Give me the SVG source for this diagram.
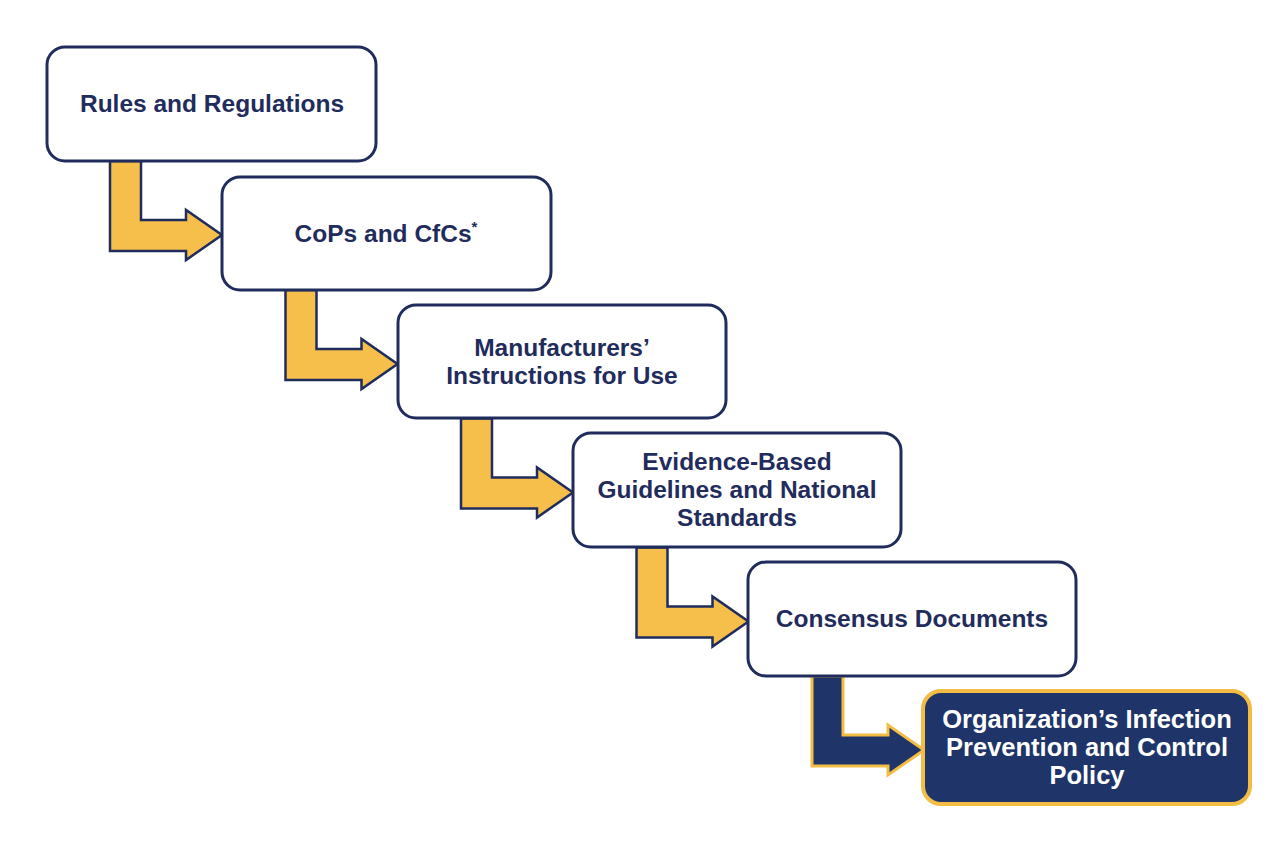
<svg xmlns="http://www.w3.org/2000/svg" width="1280" height="852" viewBox="0 0 1280 852">
<style>
.box{fill:#fff;stroke:#1f2c5c;stroke-width:3}
.fin{fill:#1f3468;stroke:#f3bd45;stroke-width:4}
.arr{fill:#f6be4b;stroke:#1f2c5c;stroke-width:2.5;stroke-linejoin:miter}
.arrd{fill:#1f3468;stroke:#f3bd45;stroke-width:3;stroke-linejoin:miter}
text{font-family:"Liberation Sans",Arial,sans-serif;font-weight:bold;font-size:24.5px;fill:#1f2c5c;text-anchor:middle}
.w{fill:#fff;font-size:25.5px}
</style>
<rect width="1280" height="852" fill="#fff"/>
<defs><path id="a" d="M0,0 L31,0 L31,59 L76,59 L76,49 L112,74 L76,99 L76,90 L0,90 Z"/></defs>
<g id="connectors">
<use href="#a" class="arr" x="110" y="161"/>
<use href="#a" class="arr" x="285.5" y="290"/>
<use href="#a" class="arr" x="461" y="418.5"/>
<use href="#a" class="arr" x="636.5" y="547.5"/>
<use href="#a" class="arrd" x="812" y="676"/>
</g>
<g id="n1"><rect class="box" x="47" y="47" width="329" height="114" rx="18"/><text x="212" y="112">Rules and Regulations</text></g>
<g id="n2"><rect class="box" x="222" y="177" width="329" height="113" rx="18"/><text x="386" y="242">CoPs and CfCs<tspan font-size="15" dy="-10">*</tspan></text></g>
<g id="n3"><rect class="box" x="398" y="305" width="328" height="113" rx="18"/><text x="562" y="356">Manufacturers’</text><text x="562" y="384">Instructions for Use</text></g>
<g id="n4"><rect class="box" x="573" y="433" width="328" height="114" rx="18"/><text x="737" y="470">Evidence-Based</text><text x="737" y="498">Guidelines and National</text><text x="737" y="526">Standards</text></g>
<g id="n5"><rect class="box" x="748" y="562" width="328" height="114" rx="18"/><text x="912" y="627">Consensus Documents</text></g>
<g id="n6"><rect class="fin" x="923" y="691" width="327" height="113" rx="18"/><text class="w" x="1087" y="728">Organization’s Infection</text><text class="w" x="1087" y="756">Prevention and Control</text><text class="w" x="1087" y="784">Policy</text></g>
</svg>
